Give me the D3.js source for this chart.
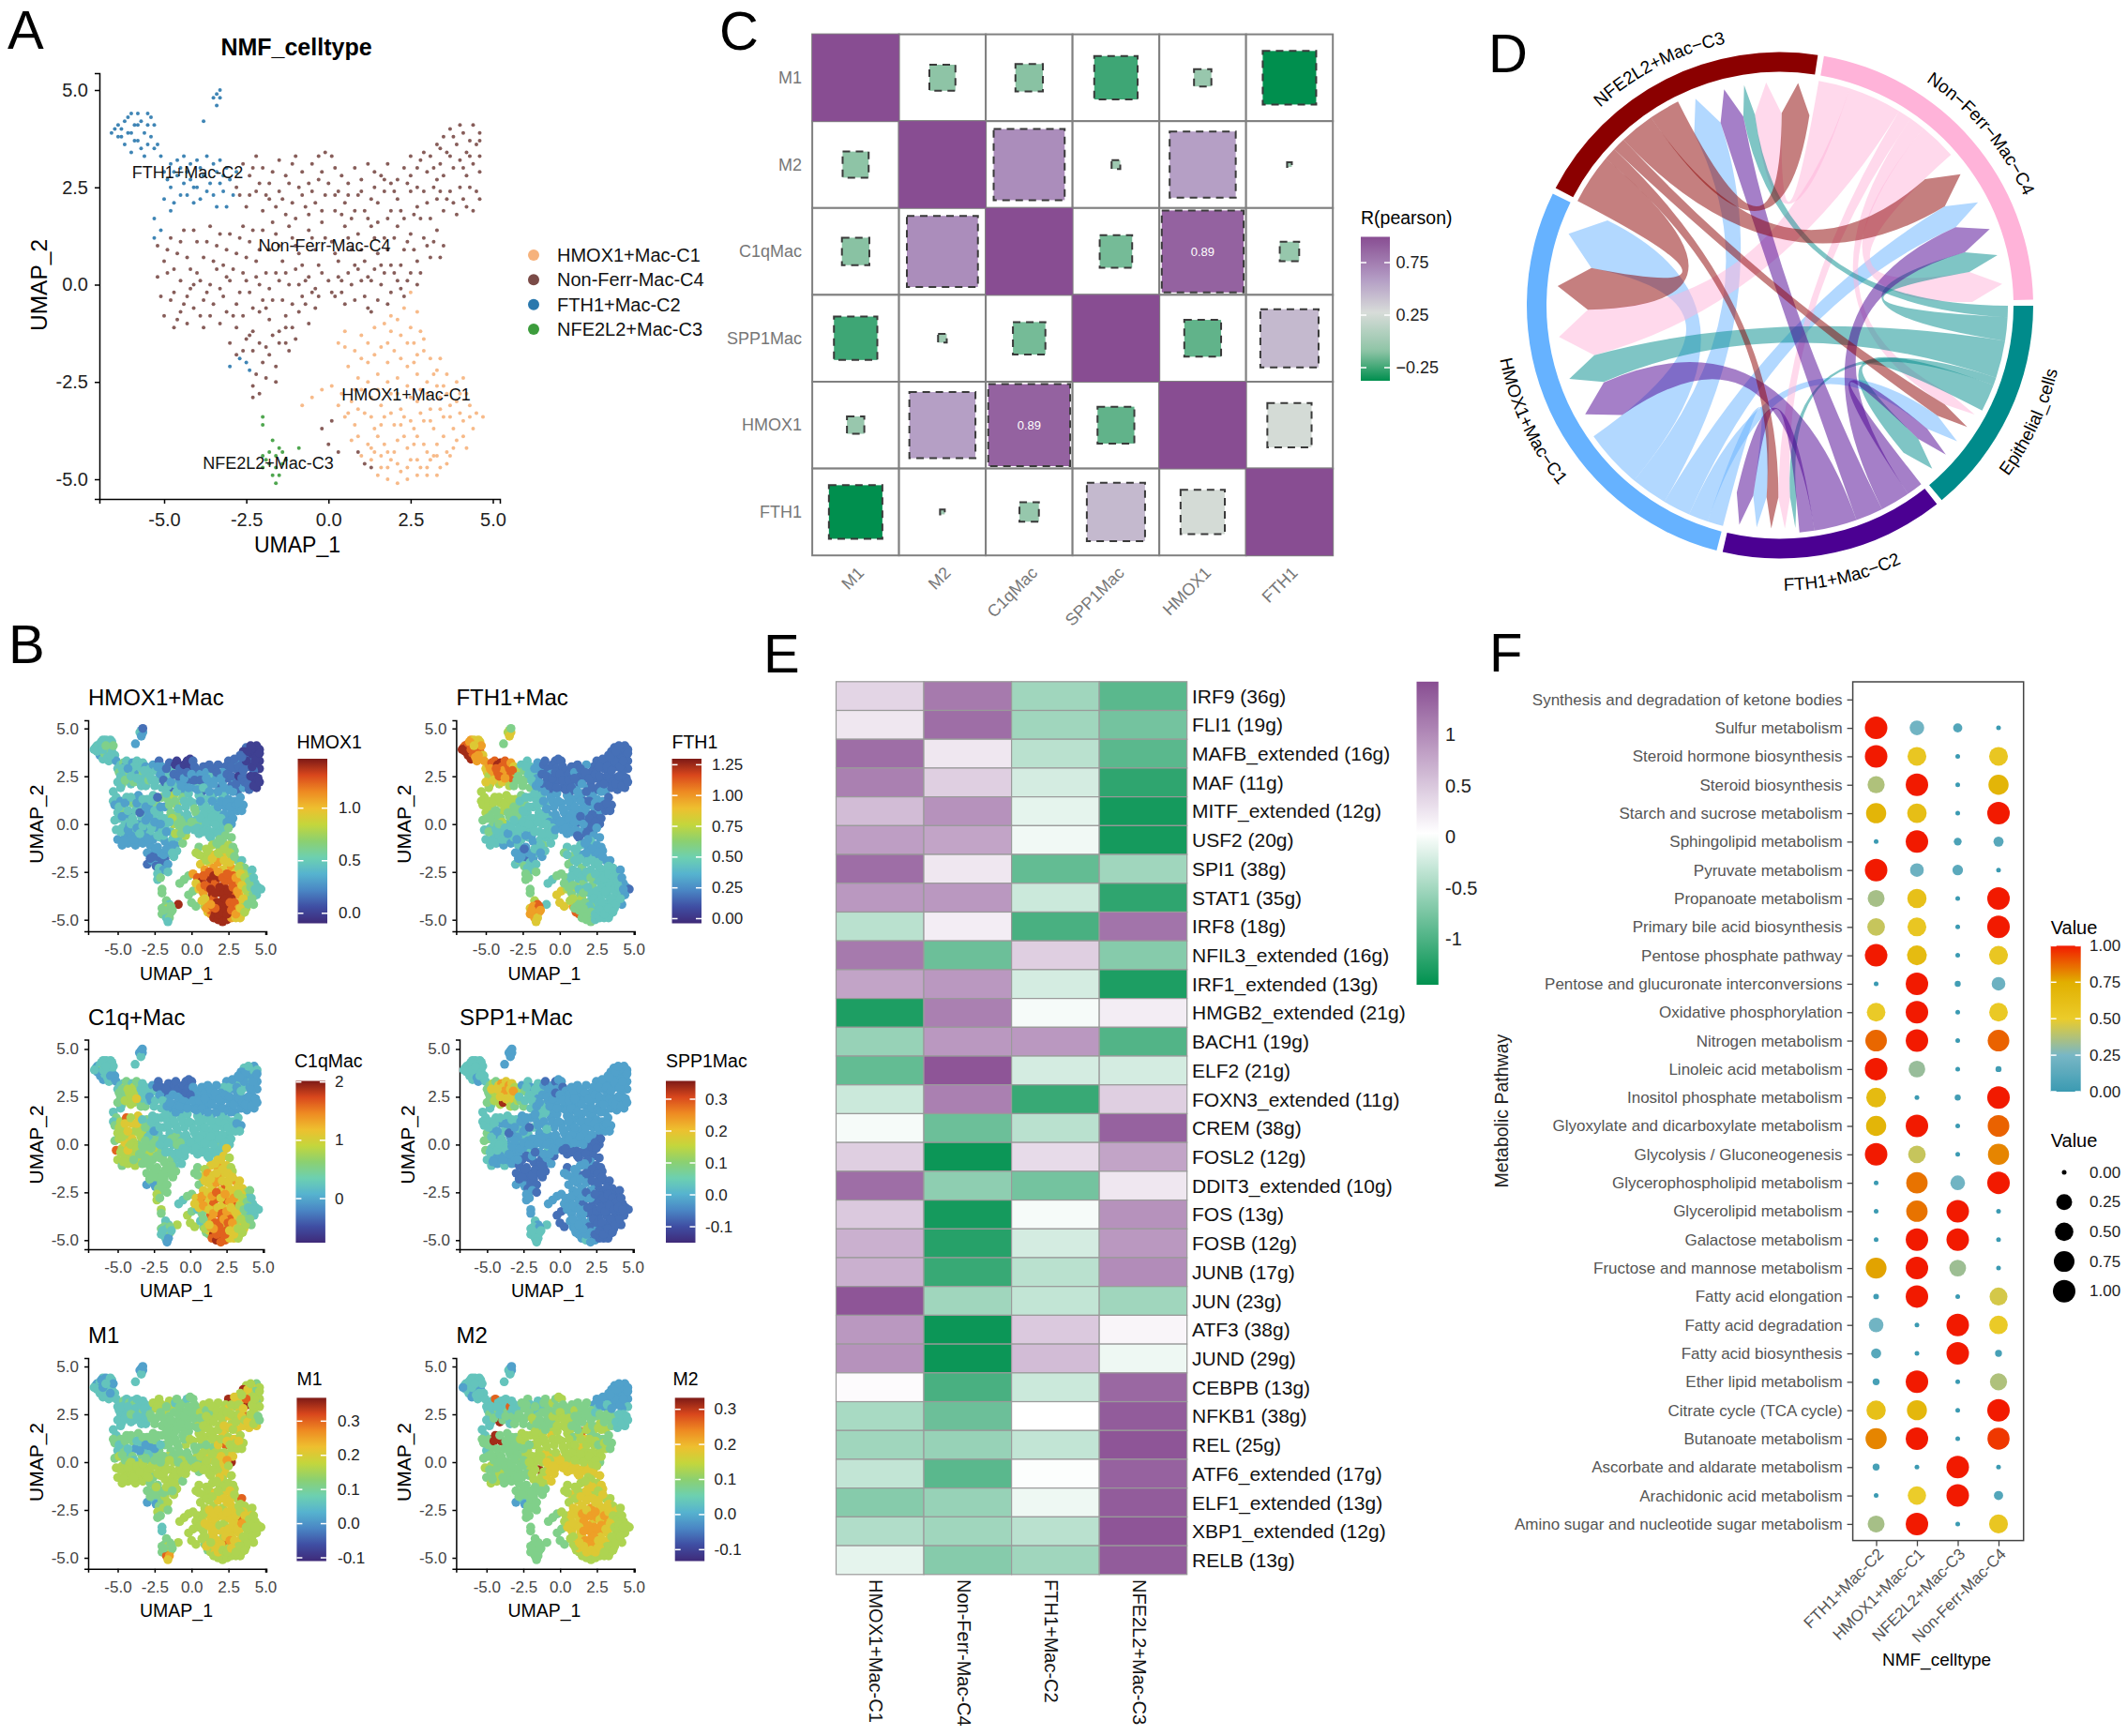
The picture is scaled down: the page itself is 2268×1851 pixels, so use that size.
<!DOCTYPE html>
<html><head><meta charset="utf-8">
<style>html,body{margin:0;padding:0;background:#fff}svg{display:block}text{font-family:"Liberation Sans",Arial,sans-serif}</style>
<script src="https://cdn.jsdelivr.net/npm/d3@7"></script></head><body><script>
// ---------- DATA ----------
// UMAP cells: [umap1*10, umap2*10, levels HMOX1 FTH1 C1q SPP1 M1 M2 on the colour ramp 0-9]
const cellsC2=[[-65,40,"383333"],[-64,41,"382323"],[-63,38,"394332"],[-63,40,"493323"],[-62,42,"383333"],[-62,36,"292333"],[-61,39,"384323"],[-60,34,"392332"],[-60,44,"373333"],[-59,41,"372323"],[-58,37,"382332"],[-58,44,"363323"],[-57,42,"373333"],[-56,39,"382323"],[-56,33,"373233"],[-55,44,"363333"],[-55,41,"463323"],[-54,38,"383332"],[-54,43,"363333"],[-53,35,"372333"],[-53,41,"473323"],[-52,36,"362333"],[-51,33,"272333"],[-61,43,"373323"],[-59,37,"483332"],[-57,35,"373233"],[-55,36,"372323"],[-64,38,"392333"],[-66,39,"393332"],[-60,39,"383323"],[-58,41,"463333"],[-34,49,"252222"],[-33,48,"262222"],[-35,48,"352223"],[-34,46,"263233"],[-33,50,"142222"],[-38,42,"243233"],[-50,29,"363433"],[-49,27,"464433"],[-48,31,"373433"],[-48,25,"354434"],[-47,21,"464433"],[-46,28,"374533"],[-46,32,"483543"],[-45,30,"285533"],[-44,26,"374533"],[-44,33,"384438"],[-43,23,"365634"],[-42,31,"394643"],[-42,27,"485534"],[-41,21,"355539"],[-40,32,"293733"],[-40,25,"384633"],[-39,30,"385643"],[-38,28,"375733"],[-39,22,"465934"],[-37,33,"384633"],[-36,26,"275734"],[-35,31,"384733"],[-35,23,"364633"],[-34,29,"383638"],[-34,20,"354533"],[-33,32,"373633"],[-33,26,"483643"],[-32,24,"383634"],[-31,30,"263533"],[-31,20,"344434"],[-30,27,"353533"],[-29,23,"443534"],[-28,29,"353533"],[-48,19,"353333"],[-50,22,"364433"],[-53,17,"353333"],[-51,14,"354333"],[-53,12,"353344"],[-47,29,"374633"],[-45,23,"465534"],[-43,29,"285633"],[-41,25,"385643"],[-37,24,"376634"],[-32,28,"383733"],[-30,-21,"132222"],[-27,-19,"243222"],[-25,-20,"232233"],[-24,-22,"142222"]];
const cellsC4=[[44,41,"012242"],[37,40,"113252"],[41,39,"013262"],[46,39,"013252"],[35,38,"012292"],[43,37,"013242"],[39,36,"012252"],[45,36,"012242"],[33,36,"112252"],[36,34,"112262"],[42,34,"012252"],[46,33,"012252"],[31,33,"213262"],[28,32,"213253"],[25,33,"112292"],[40,32,"113252"],[44,31,"012242"],[34,31,"113262"],[23,30,"113252"],[30,29,"112252"],[38,30,"113292"],[46,29,"012253"],[25,28,"113263"],[42,28,"112252"],[16,28,"223253"],[33,27,"112262"],[19,26,"223252"],[-26,31,"232254"],[-24,28,"343454"],[-22,33,"131354"],[-20,30,"231253"],[-18,26,"331353"],[-15,32,"121353"],[-13,28,"321353"],[-11,31,"011234"],[-10,33,"011144"],[-8,29,"111244"],[-5,31,"011245"],[-3,33,"011134"],[-1,34,"011245"],[-2,29,"011244"],[1,33,"111245"],[2,30,"112144"],[-6,26,"121244"],[4,28,"112244"],[6,26,"212254"],[8,30,"112254"],[10,27,"222245"],[12,31,"112254"],[14,25,"312244"],[18,31,"122254"],[21,27,"212254"],[-27,23,"342444"],[-25,20,"343444"],[-22,24,"243354"],[-20,19,"343344"],[-18,22,"133345"],[-15,24,"322244"],[-13,18,"122344"],[-11,21,"312344"],[-8,23,"212244"],[-6,18,"212245"],[-4,21,"212244"],[-1,23,"112245"],[2,19,"212245"],[3,24,"212254"],[5,21,"312255"],[7,17,"112255"],[9,23,"212254"],[11,19,"222254"],[13,22,"212254"],[15,16,"222258"],[17,24,"212254"],[19,19,"122255"],[21,22,"212254"],[23,17,"222255"],[25,24,"112264"],[27,20,"112255"],[29,24,"212254"],[31,17,"122265"],[33,22,"112254"],[35,19,"212264"],[37,24,"112283"],[39,18,"112263"],[41,22,"012253"],[43,25,"012253"],[44,19,"012263"],[-52,10,"254344"],[-50,6,"355433"],[-48,12,"255344"],[-46,8,"445244"],[-44,14,"358349"],[-42,4,"245234"],[-40,11,"456249"],[-38,7,"355324"],[-36,15,"256344"],[-34,10,"355234"],[-32,5,"245234"],[-30,13,"354344"],[-28,8,"243324"],[-26,15,"343245"],[-24,11,"443245"],[-22,6,"333345"],[-20,14,"433245"],[-18,9,"233345"],[-16,13,"433245"],[-14,6,"433245"],[-12,15,"533345"],[-10,10,"533245"],[-8,5,"323245"],[-6,14,"423246"],[-4,9,"323255"],[-2,16,"323245"],[1,11,"323255"],[3,6,"423245"],[5,15,"323255"],[7,9,"323245"],[9,13,"323254"],[11,6,"323255"],[13,15,"323255"],[15,8,"323246"],[17,12,"313256"],[19,5,"323255"],[21,15,"323264"],[23,9,"223285"],[25,13,"223254"],[27,6,"223255"],[29,12,"223264"],[31,7,"213255"],[33,14,"213254"],[35,10,"212254"],[-52,2,"344444"],[-51,-3,"338455"],[-49,3,"345454"],[-47,-2,"335355"],[-45,1,"346344"],[-44,-5,"335255"],[-42,-1,"235354"],[-40,3,"346344"],[-38,-4,"335354"],[-36,0,"234254"],[-34,4,"345244"],[-32,-3,"234254"],[-30,1,"334244"],[-28,-5,"335254"],[-26,3,"334345"],[-24,-2,"235254"],[-22,2,"334245"],[-20,-4,"334355"],[-18,-1,"333255"],[-16,3,"433255"],[-14,-4,"333259"],[-12,0,"533255"],[-10,4,"434246"],[-8,-3,"433356"],[-6,2,"433246"],[-4,-1,"423256"],[-2,3,"323246"],[1,-2,"323246"],[3,2,"323255"],[5,-5,"323146"],[7,0,"323256"],[9,4,"323255"],[11,-3,"323156"],[13,1,"313255"],[15,-4,"323156"],[17,3,"313265"],[19,-2,"313156"],[21,1,"314165"],[23,-3,"313166"],[25,3,"213165"],[27,0,"213194"],[-50,-8,"235354"],[-47,-11,"234355"],[-45,-7,"235254"],[-43,-10,"235255"],[-41,-6,"235255"],[-38,-11,"225354"],[-36,-8,"235254"],[-33,-10,"224254"],[-31,-7,"234254"],[-28,-11,"234144"],[-26,-8,"234144"],[-23,-12,"224144"],[-21,-7,"334154"],[-18,-9,"224155"],[-15,-12,"224155"],[-13,-8,"334155"],[-11,-11,"243155"],[-9,-7,"333256"],[-6,-10,"433246"],[-4,-6,"533156"],[13,-7,"313156"],[-30,-15,"224144"],[-28,-18,"124144"],[-25,-14,"224144"],[-23,-17,"114144"],[-21,-15,"224144"],[-20,-20,"134144"],[-18,-18,"124154"],[-16,-21,"234154"],[-15,-15,"234144"],[-12,-17,"324154"],[-10,-14,"334154"],[-22,-23,"334144"],[-19,-24,"234254"],[-16,-25,"344144"],[-23,-26,"345254"],[-23,-29,"345244"],[-21,-28,"444244"],[-2,-37,"465154"],[1,-35,"464154"],[0,-41,"465154"],[3,-43,"465154"],[9,-43,"574245"],[11,-46,"684245"],[13,-47,"784255"],
[-49,9,"355334"],[-47,4,"245344"],[-45,11,"256349"],[-43,7,"346234"],[-41,14,"355344"],[-39,1,"355334"],[-37,11,"256234"],[-35,6,"145124"],[-33,13,"353344"],[-31,9,"244224"],[-29,4,"243234"],[-27,12,"333245"],[-25,7,"332224"],[-23,14,"133245"],[-21,9,"233134"],[-19,3,"333245"],[-17,16,"333245"],[-15,10,"433245"],[-13,3,"534245"],[-11,12,"423245"],[-9,8,"323345"],[-7,1,"424255"],[-5,12,"323245"],[-3,5,"323245"],[-1,12,"323255"],[2,8,"423245"],[4,1,"423245"],[6,12,"223255"],[8,5,"323255"],[10,9,"323245"],[12,2,"323265"],[14,12,"223255"],[16,5,"323255"],[18,9,"223265"],[20,12,"213255"],[22,5,"213255"],[24,11,"223265"],[26,9,"213254"],[28,3,"213165"],[30,10,"213255"],[32,11,"212264"],[34,7,"213254"],[-48,-4,"345354"],[-46,-9,"235254"],[-43,-3,"236354"],[-41,0,"345354"],[-39,-8,"234254"],[-37,-2,"235354"],[-35,-5,"324254"],[-33,-1,"334254"],[-31,2,"234244"],[-29,-8,"224254"],[-27,-2,"334254"],[-25,1,"234244"],[-23,-6,"324154"],[-21,0,"233245"],[-19,-6,"324255"],[-17,-4,"233155"],[-15,1,"333255"],[-13,-11,"234155"],[-11,-5,"533255"],[-9,0,"434246"],[-7,-5,"433256"],[-5,-2,"433256"],[-3,-3,"323256"],[0,1,"423246"],[2,-3,"323156"],[4,-2,"323156"],[6,3,"323255"],[8,-4,"323156"],[10,1,"323255"],[12,-6,"313156"],[14,4,"313255"],[16,0,"323255"],[18,-5,"313156"],[20,3,"313265"],[22,-1,"313165"],[24,1,"213175"],[-28,25,"342344"],[-24,23,"343344"],[-23,30,"231354"],[-21,26,"232344"],[-19,23,"133345"],[-17,29,"121344"],[-16,20,"322244"],[-14,22,"222244"],[-12,26,"112244"],[-10,17,"322344"],[-9,25,"112244"],[-7,20,"212244"],[-5,24,"212245"],[-3,27,"111144"],[-2,19,"212245"],[0,26,"211245"],[2,23,"112245"],[4,18,"212245"],[6,23,"112245"],[8,19,"312254"],[10,24,"212254"],[12,17,"222254"],[14,29,"112254"],[15,21,"222254"],[17,27,"112254"],[18,17,"212255"],[20,24,"212254"],[22,19,"212264"],[24,26,"112253"],[26,18,"212265"],[27,25,"112254"],[28,17,"222255"],[30,21,"112254"],[32,25,"012254"],[34,24,"112264"],[36,22,"112254"],[38,21,"112263"],[40,25,"012253"],[42,20,"012253"],[45,24,"012243"],[46,22,"012243"],[27,30,"113252"],[29,34,"112262"],[32,30,"112253"],[35,28,"113262"],[37,33,"012282"],[41,30,"012252"],[43,33,"012252"],[38,38,"012262"],[34,35,"112252"],[40,41,"013252"],[46,37,"012252"],[-19,-16,"224144"],[-17,-13,"234154"],[-13,-15,"324144"],[-26,-17,"124144"],[-24,-13,"214154"]];
const cellsC1=[[25,-2,"426155"],[23,-6,"426166"],[27,-7,"425156"],[21,-9,"436255"],[25,-11,"526155"],[19,-12,"427256"],[19,-8,"426165"],[14,-11,"536255"],[28,-12,"425156"],[5,-12,"434155"],[10,-13,"535255"],[3,-15,"544255"],[8,-17,"546256"],[12,-15,"537255"],[16,-16,"626165"],[20,-17,"537156"],[24,-15,"626165"],[27,-18,"526165"],[29,-14,"425156"],[31,-19,"427155"],[34,-19,"326185"],[6,-21,"644255"],[9,-24,"736256"],[12,-20,"636256"],[15,-23,"746256"],[18,-20,"737266"],[21,-24,"636257"],[24,-21,"638266"],[27,-23,"736166"],[30,-25,"636166"],[33,-22,"536156"],[36,-23,"436155"],[39,-25,"435156"],[41,-24,"324155"],[-5,-29,"433254"],[-8,-31,"433254"],[-2,-27,"444254"],[1,-26,"744255"],[4,-28,"846255"],[7,-30,"937256"],[10,-27,"838266"],[13,-29,"936266"],[16,-31,"848167"],[19,-28,"938267"],[22,-32,"846156"],[25,-29,"838167"],[28,-27,"836166"],[31,-32,"738167"],[34,-29,"736186"],[37,-31,"534165"],[40,-28,"433165"],[43,-31,"323155"],[45,-33,"323155"],[47,-34,"313155"],[5,-34,"653256"],[8,-36,"744256"],[11,-33,"856266"],[14,-37,"948266"],[17,-34,"837267"],[20,-36,"938167"],[23,-34,"946157"],[26,-37,"838187"],[29,-35,"837167"],[32,-37,"736166"],[35,-34,"636166"],[38,-37,"534155"],[41,-35,"433155"],[44,-37,"323155"],[7,-40,"653255"],[12,-41,"746266"],[15,-39,"857266"],[18,-43,"948267"],[21,-40,"938257"],[24,-42,"946187"],[27,-39,"938166"],[30,-43,"848166"],[33,-41,"635166"],[36,-43,"536155"],[39,-40,"434155"],[42,-42,"424155"],[13,-45,"846256"],[16,-47,"949266"],[19,-45,"948257"],[22,-48,"938156"],[25,-45,"938256"],[28,-47,"837266"],[31,-45,"636155"],[34,-47,"535155"],[37,-44,"536155"],[15,-49,"948255"],[18,-50,"949355"],[21,-51,"948255"],[24,-50,"938255"],[27,-49,"736155"],[30,-49,"636155"],[33,-49,"635155"],
[22,-13,"526156"],[17,-10,"426255"],[26,-15,"526165"],[5,-16,"534255"],[10,-19,"536255"],[14,-18,"636256"],[18,-15,"526156"],[22,-19,"636166"],[26,-20,"636166"],[29,-17,"426156"],[32,-23,"536156"],[35,-26,"536166"],[8,-27,"837256"],[12,-25,"836266"],[15,-27,"937267"],[18,-25,"738166"],[21,-28,"846267"],[24,-26,"837167"],[27,-30,"837166"],[30,-28,"737167"],[33,-26,"635156"],[36,-28,"535165"],[39,-30,"434155"],[42,-28,"323155"],[3,-31,"646255"],[6,-33,"746256"],[9,-32,"847266"],[13,-34,"936266"],[16,-36,"947267"],[19,-33,"936157"],[22,-36,"938167"],[25,-35,"937167"],[28,-33,"836167"],[31,-35,"736166"],[34,-32,"635176"],[37,-34,"534155"],[40,-33,"433155"],[43,-34,"323155"],[9,-39,"654255"],[10,-44,"745265"],[14,-43,"847266"],[17,-41,"948267"],[20,-43,"938167"],[23,-39,"937167"],[26,-41,"838176"],[29,-41,"837166"],[32,-44,"736155"],[35,-39,"635155"],[38,-42,"435155"],[41,-39,"434155"],[18,-47,"948266"],[21,-46,"948256"],[24,-47,"938156"],[27,-45,"836166"],[30,-47,"736155"],[33,-44,"635155"],[36,-46,"535155"],[16,-44,"847266"],[13,-42,"746256"]];
const cellsC3=[[-20,-34,"445234"],[-20,-36,"444234"],[-17,-40,"453344"],[-15,-42,"383244"],[-9,-42,"935354"],[-20,-44,"464344"],[-18,-43,"474344"],[-16,-44,"573354"],[-14,-43,"484244"],[-18,-46,"383364"],[-16,-47,"483374"],[-14,-46,"474354"],[-20,-47,"473344"],[-17,-49,"373384"],[-15,-49,"462374"],[-16,-51,"362364"],[-19,-45,"473344"],[-13,-45,"473344"]];
const umapClusters=["HMOX1+Mac-C1","Non-Ferr-Mac-C4","FTH1+Mac-C2","NFE2L2+Mac-C3"];
const umapTicks=[-5,-2.5,0,2.5,5];
const corrLabels=["M1","M2","C1qMac","SPP1Mac","HMOX1","FTH1"];
const corrValues=[[1,-.09,-.10,-.25,-.04,-.38],[-.09,1,.67,-.01,.58,-.003],[-.10,.67,1,-.14,.89,-.05],[-.25,-.01,-.14,1,-.18,.45],[-.04,.58,.89,-.18,1,.26],[-.38,-.003,-.05,.45,.26,1]];
const corrTicks=[.75,.25,-.25];
const chordSectors=["NFE2L2+Mac\u2212C3","Non\u2212Ferr\u2212Mac\u2212C4","Epithelial_cells","FTH1+Mac\u2212C2","HMOX1+Mac\u2212C1"];
const chordSpans=[[296.9,369.3],[9.3,89.4],[89.4,141],[141,193.8],[193.8,296.9]];
// [source sector, target sector, source from, source to, target from, target to] in degrees
const chordLinks=[[4,3,194.5,198.5,184,188],[4,2,198.5,203.5,125,130],[4,1,203.5,210.5,59,66],[4,0,210.5,219.8,333.5,342],[4,4,219.8,234.9,281.2,296.2],
[1,0,9.8,17.8,352.5,360.4],[1,4,17.8,31.5,255,268.7],[1,3,31.5,35,177,180.5],[1,2,35,39,117.5,121],[1,1,39,48.6,80,89],
[2,0,90.1,93,349,352.5],[2,1,93,99,74,80],[2,4,99,108.5,246.5,255],[2,3,108.5,110.5,175.1,177],[2,2,110.5,117.5,134,140],
[3,2,141.7,145.8,130,134],[3,1,145.8,153.4,66,74],[3,0,153.4,160.4,342,349],[3,4,160.4,171.3,235.2,246.4],[3,3,171.3,175.1,188,193],
[0,4,297.3,310.1,268.7,281.2],[0,3,310.1,313.3,180.5,184],[0,2,313.3,316.6,121,125],[0,1,316.6,325.5,49,59],[0,0,325.5,333.4,360.5,368.8]];
const regulons=["IRF9 (36g)","FLI1 (19g)","MAFB_extended (16g)","MAF (11g)","MITF_extended (12g)","USF2 (20g)","SPI1 (38g)","STAT1 (35g)","IRF8 (18g)","NFIL3_extended (16g)","IRF1_extended (13g)","HMGB2_extended (21g)","BACH1 (19g)","ELF2 (21g)","FOXN3_extended (11g)","CREM (38g)","FOSL2 (12g)","DDIT3_extended (10g)","FOS (13g)","FOSB (12g)","JUNB (17g)","JUN (23g)","ATF3 (38g)","JUND (29g)","CEBPB (13g)","NFKB1 (38g)","REL (25g)","ATF6_extended (17g)","ELF1_extended (13g)","XBP1_extended (12g)","RELB (13g)"];
const regulonCols=["HMOX1+Mac-C1","Non-Ferr-Mac-C4","FTH1+Mac-C2","NFE2L2+Mac-C3"];
const regulonVals=[[.35,1.1,-.55,-.95],[.2,1.2,-.55,-.8],[1.2,.2,-.4,-.95],[1.05,.4,-.25,-1.2],[.55,.9,-.15,-1.35],[.8,.75,-.08,-1.35],[1.2,.2,-.9,-.55],[.85,.85,-.3,-1.2],[-.4,.15,-1.05,1.15],[1.1,-.85,.4,-.7],[.75,.85,-.25,-1.3],[-1.3,1.05,-.05,.15],[-.6,.85,.85,-1],[-.9,1.4,-.25,-.25],[-.3,1.05,-1.15,.4],[-.05,-.85,-.4,1.3],[.4,-1.4,.3,.75],[1.2,-.65,-.8,.2],[.45,-1.35,-.05,.9],[.65,-1.25,-.25,.85],[.65,-1.15,-.4,.95],[1.4,-.55,-.35,-.55],[.85,-1.4,.45,.08],[.9,-1.4,.55,-.1],[.03,-1.05,-.3,1.25],[-.5,-.85,0,1.35],[-.55,-.6,-.35,1.4],[-.35,-.95,-.02,1.3],[-.7,-.6,-.1,1.35],[-.45,-.55,-.4,1.4],[-.15,-.7,-.55,1.35]];
const regulonTicks=[1,.5,0,-.5,-1];
const pathways=["Synthesis and degradation of ketone bodies","Sulfur metabolism","Steroid hormone biosynthesis","Steroid biosynthesis","Starch and sucrose metabolism","Sphingolipid metabolism","Pyruvate metabolism","Propanoate metabolism","Primary bile acid biosynthesis","Pentose phosphate pathway","Pentose and glucuronate interconversions","Oxidative phosphorylation","Nitrogen metabolism","Linoleic acid metabolism","Inositol phosphate metabolism","Glyoxylate and dicarboxylate metabolism","Glycolysis / Gluconeogenesis","Glycerophospholipid metabolism","Glycerolipid metabolism","Galactose metabolism","Fructose and mannose metabolism","Fatty acid elongation","Fatty acid degradation","Fatty acid biosynthesis","Ether lipid metabolism","Citrate cycle (TCA cycle)","Butanoate metabolism","Ascorbate and aldarate metabolism","Arachidonic acid metabolism","Amino sugar and nucleotide sugar metabolism"];
const pathwayCols=["FTH1+Mac-C2","HMOX1+Mac-C1","NFE2L2+Mac-C3","Non-Ferr-Mac-C4"];
const pathwayVals=[null,[1,.22,.1,0],[1,.55,0,.55],[.37,1,0,.7],[.7,.62,0,1],[0,1,.07,.12],[1,.2,.13,0],[.35,.6,0,1],[.42,.55,0,1],[1,.65,0,.55],[0,1,.03,.2],[.52,1,0,.53],[.87,1,0,.88],[1,.32,0,.03],[.65,0,.03,1],[.7,1,0,.88],[1,.42,0,.82],[0,.85,.22,1],[0,.85,1,0],[0,1,1,0],[.77,1,.33,0],[.02,1,0,.45],[.22,0,1,.52],[.12,0,1,.05],[.05,1,0,.37],[.6,.68,0,1],[.82,1,0,.95],[.05,0,1,0],[0,.5,1,.1],[.35,1,0,.55]];
const valueTicks=[0,.25,.5,.75,1];

// ---------- HELPERS ----------
const svg=d3.select("body").append("svg").attr("width",2268).attr("height",1851).attr("viewBox","0 0 2268 1851");
const defs=svg.append("defs");
const hy=f=>v=>f(v).replace("\u2212","-");
function T(x,y,s,size,o={}){const t=svg.append("text").attr("font-size",size).attr("fill",o.fill||"#000").attr("text-anchor",o.anchor||"start").text(s);
 if(o.weight)t.attr("font-weight",o.weight);
 if(o.rot!==undefined)t.attr("transform",`translate(${x},${y}) rotate(${o.rot})`);else t.attr("x",x).attr("y",y);
 if(o.mid)t.attr("dominant-baseline","central");return t;}
function grad(id,scale,dom){const g=defs.append("linearGradient").attr("id",id).attr("x1",0).attr("x2",0).attr("y1",1).attr("y2",0);
 d3.range(41).forEach(i=>{const v=dom[0]+(dom[1]-dom[0])*i/40;g.append("stop").attr("offset",i/40).attr("stop-color",scale(v));});return `url(#${id})`;}
function colourBar(fill,x0,x1,y0,y1,ticks,yS,labelX,fmt,size,whiteTicks=true){
 svg.append("rect").attr("x",x0).attr("y",y0).attr("width",x1-x0).attr("height",y1-y0).attr("fill",fill);
 ticks.forEach(v=>{const y=yS(v);
  if(whiteTicks){[[x0,x0+6],[x1-6,x1]].forEach(a=>svg.append("line").attr("x1",a[0]).attr("x2",a[1]).attr("y1",y).attr("y2",y).attr("stroke","#fff").attr("stroke-width",1.5));}
  T(labelX,y,fmt(v),size,{mid:true,fill:"#222"});});}
function axes(left,right,top,bottom,xn5,x5,y5,yn5,o){
 const x0=d3.scaleLinear([-5,5],[xn5,x5]), y0=d3.scaleLinear([-5,5],[yn5,y5]);
 const x=d3.scaleLinear([x0.invert(left),x0.invert(right)],[left,right]);
 const y=d3.scaleLinear([y0.invert(bottom),y0.invert(top)],[bottom,top]);
 const fmt=hy(d3.format(".1f"));
 const gx=svg.append("g").attr("transform",`translate(0,${bottom})`).call(d3.axisBottom(x).tickValues(umapTicks).tickFormat(fmt).tickSize(o.ts).tickPadding(o.px));
 const gy=svg.append("g").attr("transform",`translate(${left},0)`).call(d3.axisLeft(y).tickValues(umapTicks).tickFormat(fmt).tickSize(o.ts).tickPadding(o.py));
 [gx,gy].forEach(g=>{g.selectAll("text").attr("font-size",o.fs).attr("fill",o.col).attr("font-family","Liberation Sans");
  g.selectAll("path,line").attr("stroke","#000").attr("stroke-width",1.5);});
 return {x,y};}
const cellsAll=[].concat(cellsC2.map(c=>[...c,2]),cellsC4.map(c=>[...c,1]),cellsC1.map(c=>[...c,0]),cellsC3.map(c=>[...c,3]));

// ---------- PANEL LETTERS ----------
[["A",8,52],["B",9,707],["C",767,53],["D",1587,77],["E",814,717],["F",1588,716]].forEach(d=>T(d[1],d[2],d[0],58));

// ---------- PANEL A ----------
const clusterCol=d3.scaleOrdinal(umapClusters,["#f6b27c","#7a4b47","#2a78ad","#3c9c3c"]);
T(316,59,"NMF_celltype",25,{anchor:"middle",weight:"bold"});
{const a=axes(106,533,78,532,175,525.5,96,511,{ts:5,px:10,py:7,fs:20,col:"#222"});
 svg.append("g").selectAll("circle").data(cellsAll).join("circle").attr("cx",d=>a.x(d[0]/10)).attr("cy",d=>a.y(d[1]/10)).attr("r",2).attr("fill",d=>clusterCol(umapClusters[d[3]])).attr("opacity",.9);
 T(317,589,"UMAP_1",23,{anchor:"middle"});T(50,304,"UMAP_2",24.5,{anchor:"middle",rot:-90});
 [[200,184,2],[346,262,1],[433,421,0],[286,494,3]].forEach(l=>T(l[0],l[1],umapClusters[l[2]],18,{anchor:"middle",mid:true,fill:"#111"}));
 const lg=d3.scalePoint(umapClusters,[272,351]);
 umapClusters.forEach(c=>{svg.append("circle").attr("cx",569).attr("cy",lg(c)).attr("r",6).attr("fill",clusterCol(c));T(594,lg(c),c,20,{mid:true,fill:"#111"});});}

// ---------- PANEL B ----------
const rampColors=["#3f2a78","#3f4ea3","#4a86c4","#56b3cf","#6dd0b0","#8cd070","#c4d63c","#eebf2f","#ee8a22","#d9471c","#7d1a16"];
const ramp=d3.scaleLinear(d3.range(11).map(i=>i/10),rampColors);
const rampFill=grad("turbo",ramp,[0,1]);
const f1=hy(d3.format(".1f")),f2=d3.format(".2f"),f0=d3.format("d");
const rowsB=[{title:752,top:768,bot:993,y5:776.7,yn:980.7,lab:797.8,b0:809,b1:984.5,xt:1044.6},{title:1092.5,top:1108.5,bot:1332,y5:1118.5,yn:1322.3,lab:1138,b0:1152.5,b1:1325,xt:1383},{title:1431.7,top:1448,bot:1672.8,y5:1457,yn:1661,lab:1477,b0:1490.4,b1:1664.5,xt:1724}];
const panelsB=[
{n:"HMOX1+Mac",k:0,lg:"HMOX1",r:0,ax:94,xn:125.5,x5:283,bx:317.5,lx:361,lt:316.4,ut:46,tx:[0,.5,1],d:[0,1],p:[973.8,861.7],f:f1},
{n:"FTH1+Mac",k:1,lg:"FTH1",r:0,ax:486.4,xn:518,x5:675.7,bx:716.5,lx:759,lt:716.5,ut:438,tx:[0,.25,.5,.75,1,1.25],d:[0,1.25],p:[979.5,815.4],f:f2},
{n:"C1q+Mac",k:2,lg:"C1qMac",r:1,ax:94,xn:125.5,x5:280.3,bx:315.4,lx:357,lt:314,ut:46,tx:[0,1,2],d:[0,2],p:[1278,1153.7],f:f0},
{n:"SPP1+Mac",k:3,lg:"SPP1Mac",r:1,ax:490,xn:519.4,x5:674.7,bx:710,lx:752,lt:710,ut:442,tx:[-.1,0,.1,.2,.3],d:[-.1,.3],p:[1308,1172],f:f1},
{n:"M1",k:4,lg:"M1",r:2,ax:94,xn:125.5,x5:283,bx:316.4,lx:360,lt:316.4,ut:46,tx:[-.1,0,.1,.2,.3],d:[-.1,.3],p:[1661,1515.3],f:f1},
{n:"M2",k:5,lg:"M2",r:2,ax:486.4,xn:518.8,x5:675.7,bx:719.7,lx:761.5,lt:717.6,ut:438,tx:[-.1,0,.1,.2,.3],d:[-.1,.3],p:[1652.3,1502.7],f:f1}];
panelsB.forEach(p=>{const R=rowsB[p.r];
 const a=axes(p.ax,p.x5+1,R.top,R.bot,p.xn,p.x5,R.y5,R.yn,{ts:4,px:9,py:6,fs:17,col:"#444"});
 svg.append("g").selectAll("circle").data(cellsAll).join("circle").attr("cx",d=>a.x(d[0]/10)).attr("cy",d=>a.y(d[1]/10)).attr("r",4.8).attr("fill",d=>ramp((+d[2][p.k]+.6)/10));
 T(p.ax,R.title,p.n,24);
 T(p.ax+94,R.xt,"UMAP_1",19.5,{anchor:"middle"});
 T(p.ut,(R.y5+R.yn)/2,"UMAP_2",21,{anchor:"middle",rot:-90});
 T(p.lt,R.lab,p.lg,19.5);
 colourBar(rampFill,p.bx,p.bx+31.5,R.b0,R.b1,p.tx,d3.scaleLinear(p.d,p.p),p.lx,p.f,17);
});

// ---------- PANEL C ----------
{const bx=d3.scaleBand(corrLabels,[866.1,1421.2]),by=d3.scaleBand(corrLabels,[36.6,592.2]);
 const col=d3.scaleLinear([-.375,-.09,.28,.6,1],["#008f4e","#8ec4a6","#d8dcd9","#b39bc4","#884d92"]).clamp(true);
 const size=d3.scaleSqrt([0,1],[0,1]);
 const g=svg.append("g");
 corrLabels.forEach((r,i)=>corrLabels.forEach((c,j)=>{
  g.append("rect").attr("x",bx(c)).attr("y",by(r)).attr("width",bx.bandwidth()).attr("height",by.bandwidth()).attr("fill","#fff").attr("stroke","#808080").attr("stroke-width",2);}));
 corrLabels.forEach((r,i)=>corrLabels.forEach((c,j)=>{const v=corrValues[i][j],w=bx.bandwidth()*size(Math.abs(v)),h=by.bandwidth()*size(Math.abs(v));
  const cx=bx(c)+bx.bandwidth()/2,cy=by(r)+by.bandwidth()/2;
  const q=g.append("rect").attr("x",cx-w/2).attr("y",cy-h/2).attr("width",w).attr("height",h).attr("fill",col(v));
  if(i!==j)q.attr("stroke","#3a3a3a").attr("stroke-width",2).attr("stroke-dasharray","8 6");
  if(v>.8&&i!==j)T(cx,cy,d3.format(".2f")(v),13,{anchor:"middle",mid:true,fill:"#fff"});}));
 corrLabels.forEach(l=>{T(855,by(l)+by.bandwidth()/2,l,18,{anchor:"end",mid:true,fill:"#777"});
  T(bx(l)+bx.bandwidth()/2+10,612,l,18,{anchor:"end",rot:-45,fill:"#777"});});
 T(1451,239,"R(pearson)",19.5);
 colourBar(grad("corr",col,[-.375,1]),1451,1482,252.5,406,corrTicks,d3.scaleLinear([-.25,.75],[392,280]),1488.5,v=>d3.format(".2f")(v),18);
}

// ---------- PANEL D ----------
{const cx=1898,cy=325.6,rad=d=>d*Math.PI/180;
 const P=(t,r)=>[cx+r*Math.sin(rad(t)),cy-r*Math.cos(rad(t))];
 const sectorCol=["#8b0000","#ffb3d9","#008b8b","#4b0092","#66b2ff"];
 const arc=d3.arc().innerRadius(249).outerRadius(270);
 const g=svg.append("g").attr("transform",`translate(${cx},${cy})`);
 chordSpans.forEach((s,i)=>g.append("path").attr("d",arc({startAngle:rad(s[0]+.7),endAngle:rad(s[1]-.7)})).attr("fill",sectorCol[i]));
 const R=243,rs=205,rt=238;
 chordLinks.forEach(l=>{const [src,,a0,a1,t0,t1]=l;const p=d3.path();const tip=(t0+t1)/2;
  p.moveTo(...P(a0,R));p.arc(cx,cy,R,rad(a0-90),rad(a1-90));
  p.quadraticCurveTo(cx,cy,...P(t0,rs));p.lineTo(...P(tip,rt));p.lineTo(...P(t1,rs));p.quadraticCurveTo(cx,cy,...P(a0,R));p.closePath();
  svg.append("path").attr("d",p.toString()).attr("fill",sectorCol[src]).attr("fill-opacity",.5);});
 const labelPos=[[333,285,1],[49.5,285,1],[115,304,0],[167,304,0],[245,304,0]];
 chordSectors.forEach((s,i)=>{const [m,r,cw]=labelPos[i];const a=cw?m-70:m+70,b=cw?m+70:m-70;const [x0,y0]=P(a,r),[x1,y1]=P(b,r);
  defs.append("path").attr("id","lab"+i).attr("d",`M${x0},${y0}A${r},${r} 0 0 ${cw?1:0} ${x1},${y1}`);
  svg.append("text").attr("font-size",19).attr("text-anchor","middle").append("textPath").attr("href","#lab"+i).attr("startOffset","50%").text(s);});
}

// ---------- PANEL E ----------
{const bx=d3.scaleBand(regulonCols,[891.5,1265.7]),by=d3.scaleBand(regulons,[726.8,1678.8]);
 const col=d3.scaleLinear([-1.47,0,1.47],["#00914f","#ffffff","#884d92"]).clamp(true);
 regulons.forEach((r,i)=>regulonCols.forEach((c,j)=>svg.append("rect").attr("x",bx(c)).attr("y",by(r)).attr("width",bx.bandwidth()).attr("height",by.bandwidth()).attr("fill",col(regulonVals[i][j])).attr("stroke","#9a9a9a").attr("stroke-width",1.2)));
 regulons.forEach(r=>T(1271,by(r)+by.bandwidth()/2,r,21,{mid:true,fill:"#111"}));
 regulonCols.forEach(c=>T(bx(c)+bx.bandwidth()/2-4,1684,c,20,{rot:90,fill:"#111",mid:true}));
 colourBar(grad("reg",col,[-1.47,1.47]),1510.5,1533.8,726.8,1050,regulonTicks,d3.scaleLinear([-1,1],[1001,783]),1541,hy(d3.format("")),20,false);
}

// ---------- PANEL F ----------
{const L=1975.6,Rt=2157.7,Tp=727,Bt=1642.6;
 const x=d3.scalePoint(pathwayCols,[2000.5,2131]),y=d3.scalePoint(pathways,[745.8,1624.9]);
 const col=d3.scaleLinear(valueTicks,["#3b9ab2","#78b7c5","#ebcc2a","#e1af00","#f21a00"]);
 const size=d3.scaleLinear(valueTicks,[2.5,8.5,9.8,11,12]);
 svg.append("rect").attr("x",L).attr("y",Tp).attr("width",Rt-L).attr("height",Bt-Tp).attr("fill","none").attr("stroke","#444").attr("stroke-width",1.5);
 const ga=svg.append("g").attr("transform",`translate(${L},0)`).call(d3.axisLeft(y).tickSize(6).tickPadding(5));
 ga.select(".domain").remove();ga.selectAll("line").attr("stroke","#444").attr("stroke-width",1.3);
 ga.selectAll("text").attr("font-size",17).attr("fill","#555").attr("font-family","Liberation Sans");
 const gb=svg.append("g").attr("transform",`translate(0,${Bt})`).call(d3.axisBottom(x).tickSize(6).tickFormat(""));
 gb.select(".domain").remove();gb.selectAll("line").attr("stroke","#444").attr("stroke-width",1.3);
 pathways.forEach((p,i)=>{if(pathwayVals[i])pathwayCols.forEach((c,j)=>{const v=pathwayVals[i][j];
  svg.append("circle").attr("cx",x(c)).attr("cy",y(p)).attr("r",size(v)).attr("fill",col(v));});});
 pathwayCols.forEach(c=>T(x(c)+9,1658,c,17,{anchor:"end",rot:-45,fill:"#555"}));
 T(2065,1776,"NMF_celltype",19,{anchor:"middle"});
 T(1608,1184.6,"Metabolic Pathway",19.5,{anchor:"middle",rot:-90,fill:"#222"});
 T(2186.7,995.7,"Value",20);
 colourBar(grad("zis",col,[0,1]),2186.7,2218.7,1008.4,1164,valueTicks,d3.scaleLinear([0,1],[1164,1008.4]),2228,f2,17);
 T(2186.7,1223.4,"Value",20);
 const ly=d3.scaleLinear([0,1],[1250,1376.8]);
 valueTicks.forEach(v=>{svg.append("circle").attr("cx",2201).attr("cy",ly(v)).attr("r",size(v)).attr("fill","#000");T(2228,ly(v),f2(v),17,{mid:true,fill:"#222"});});
}
</script></body></html>
